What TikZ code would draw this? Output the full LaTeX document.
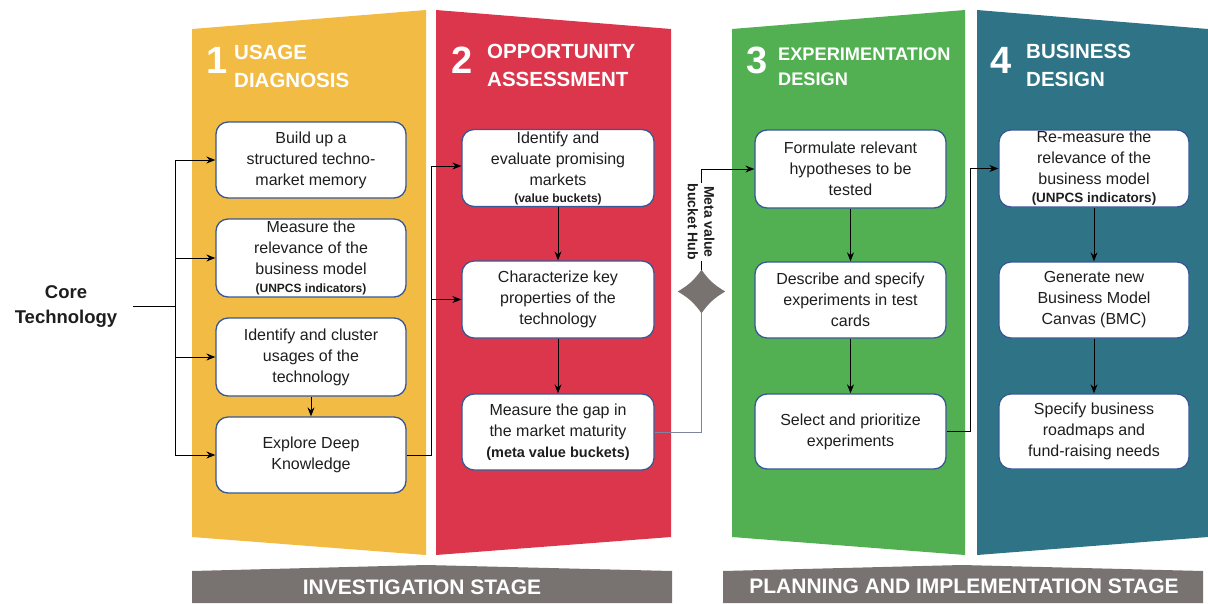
\documentclass[tikz,border=0pt]{standalone}
\usepackage{fontspec}
\setmainfont{Liberation Sans}
\usetikzlibrary{arrows.meta,shapes.geometric,calc}
\definecolor{yellowP}{RGB}{242,187,68}
\definecolor{redP}{RGB}{220,54,76}
\definecolor{greenP}{RGB}{82,176,82}
\definecolor{tealP}{RGB}{46,116,134}
\definecolor{bannerG}{RGB}{120,115,113}
\definecolor{hubG}{RGB}{120,115,113}
\definecolor{boxblue}{RGB}{54,88,150}
\definecolor{txt}{RGB}{30,30,30}
\definecolor{lineG}{RGB}{128,132,160}
\newcommand\subbfont{\fontsize{12}{14}\selectfont\bfseries}
\tikzset{
  box/.style={draw=boxblue, line width=1.3pt, fill=white, rounded corners=12pt,
    minimum width=190pt, inner sep=0pt, align=center, text=txt,
    font=\fontsize{16}{21}\selectfont},
  arr/.style={-{Stealth[length=9pt,width=7pt]}, line width=0.9pt, draw=black},
  plain/.style={line width=0.9pt, draw=black},
  head/.style={text=white, font=\fontsize{20.5}{28}\selectfont\bfseries, anchor=base west, align=left, inner sep=0pt},
  headsm/.style={text=white, font=\fontsize{18.2}{25}\selectfont\bfseries, anchor=base west, align=left, inner sep=0pt},
  num/.style={text=white, font=\fontsize{38}{40}\selectfont\bfseries, anchor=base west, inner sep=0pt},
  bannertext/.style={text=white, font=\fontsize{21}{24}\selectfont\bfseries, anchor=base, inner sep=0pt},
}
\begin{document}
\begin{tikzpicture}[x=1pt,y=-1pt]
\useasboundingbox (0,0) rectangle (1208,603);
% panels
\fill[yellowP] (192,29) -- (426,10) -- (426,555) -- (192,537) -- cycle;
\fill[redP] (436,10) -- (671,29) -- (671,537) -- (436,555) -- cycle;
\fill[greenP] (732,29) -- (965,10) -- (965,555) -- (732,537) -- cycle;
\fill[tealP] (977,10) -- (1208,29) -- (1208,537) -- (977,555) -- cycle;
% banners
\fill[bannerG] (192,571) -- (426,565) -- (672,571) -- (672,603) -- (192,603) -- cycle;
\fill[bannerG] (723,571) -- (962,565) -- (1203,571) -- (1203,603) -- (723,603) -- cycle;
\node[bannertext] (ban1) at (422,594) {INVESTIGATION STAGE};
\node[bannertext] (ban2) at (964,593) {PLANNING AND IMPLEMENTATION STAGE};
% headers
\node[num] (n1) at (206,73) {1};
\node[head] (h1) at (234,87) {USAGE\\DIAGNOSIS};
\node[num] (n2) at (451,73) {2};
\node[head] (h2) at (487,86) {OPPORTUNITY\\ASSESSMENT};
\node[num] (n3) at (746,73) {3};
\node[headsm] (h3) at (778,85) {EXPERIMENTATION\\DESIGN};
\node[num] (n4) at (990,73) {4};
\node[head] (h4) at (1026,86) {BUSINESS\\DESIGN};
% core
\node[font=\fontsize{18.5}{25}\selectfont\bfseries, align=center, text=txt, inner sep=0pt] (core) at (66,306) {Core\\Technology};
\coordinate (tr) at (175,306);
% column 1
\node[box, minimum height=76pt] (b11) at (311,160) {Build up a\\structured techno-\\market memory};
\node[box, minimum height=78pt] (b12) at (311,258) {Measure the\\relevance of the\\business model\\[-3pt]{\subbfont(UNPCS indicators)}};
\node[box, minimum height=78pt] (b13) at (311,357) {Identify and cluster\\usages of the\\technology};
\node[box, minimum height=76pt] (b14) at (311,455) {Explore Deep\\Knowledge};
% column 2
\node[box, minimum width=192pt, minimum height=77pt] (b21) at (558,168) {Identify and\\evaluate promising\\markets\\[-4pt]{\subbfont(value buckets)}};
\node[box, minimum width=192pt, minimum height=77pt] (b22) at (558,299.5) {Characterize key\\properties of the\\technology};
\node[box, minimum width=192pt, minimum height=76pt] (b23) at (558,432) {Measure the gap in\\the market maturity\\{\fontsize{14.5}{21}\selectfont\bfseries(meta value buckets)}};
% column 3
\node[box, minimum width=191pt, minimum height=78pt] (b31) at (850.5,169) {Formulate relevant\\hypotheses to be\\tested};
\node[box, minimum width=191pt, minimum height=76pt] (b32) at (850.5,300) {Describe and specify\\experiments in test\\cards};
\node[box, minimum width=191pt, minimum height=75pt] (b33) at (850.5,431.5) {Select and prioritize\\experiments};
% column 4
\node[box, minimum height=77pt] (b41) at (1094,168.5) {Re-measure the\\relevance of the\\business model\\[-3pt]{\fontsize{13.5}{15}\selectfont\bfseries(UNPCS indicators)}};
\node[box, minimum height=76pt] (b42) at (1094,300) {Generate new\\Business Model\\Canvas (BMC)};
\node[box, minimum height=75pt] (b43) at (1094,431.5) {Specify business\\roadmaps and\\fund-raising needs};
% hub
\node[diamond, minimum width=47pt, minimum height=43pt, inner sep=0pt] (hub) at (701.5,291.5) {};
\fill[hubG] (hub.north) to[bend left=12] (hub.west) to[bend left=12] (hub.south) to[bend left=12] (hub.east) to[bend left=12] (hub.north);
% connectors
\draw[plain] ([xshift=16pt]core.east) -- (tr);
\draw[arr] (tr) |- (b11.west);
\draw[arr] (tr) |- (b12.west);
\draw[arr] (tr) |- (b13.west);
\draw[arr] (tr) |- (b14.west);
\draw[arr] (b13.south) -- (b14.north);
\coordinate (j1) at (431,0);
\draw[arr] (b14.east) -- (b14.east -| j1) |- ([yshift=2pt]b21.west);
\draw[arr] (j1 |- b22.west) -- (b22.west);
\draw[arr] (b21.south) -- (b22.north);
\draw[arr] (b22.south) -- (b23.north);
\draw[line width=0.9pt, draw=lineG] (b23.east) -| (hub.south);
\draw[arr] (hub.north) |- (b31.west);
\node[fill=white, rotate=-90, align=center, text=txt, inner sep=1pt,
  font=\fontsize{14}{16.5}\selectfont\bfseries] (hublabel) at (701,222) {Meta value\\bucket Hub};
\draw[arr] (b31.south) -- (b32.north);
\draw[arr] (b32.south) -- (b33.north);
\coordinate (j3) at (970,0);
\draw[arr] (b33.east) -- (b33.east -| j3) |- (b41.west);
\draw[arr] (b41.south) -- (b42.north);
\draw[arr] (b42.south) -- (b43.north);
\end{tikzpicture}
\end{document}
